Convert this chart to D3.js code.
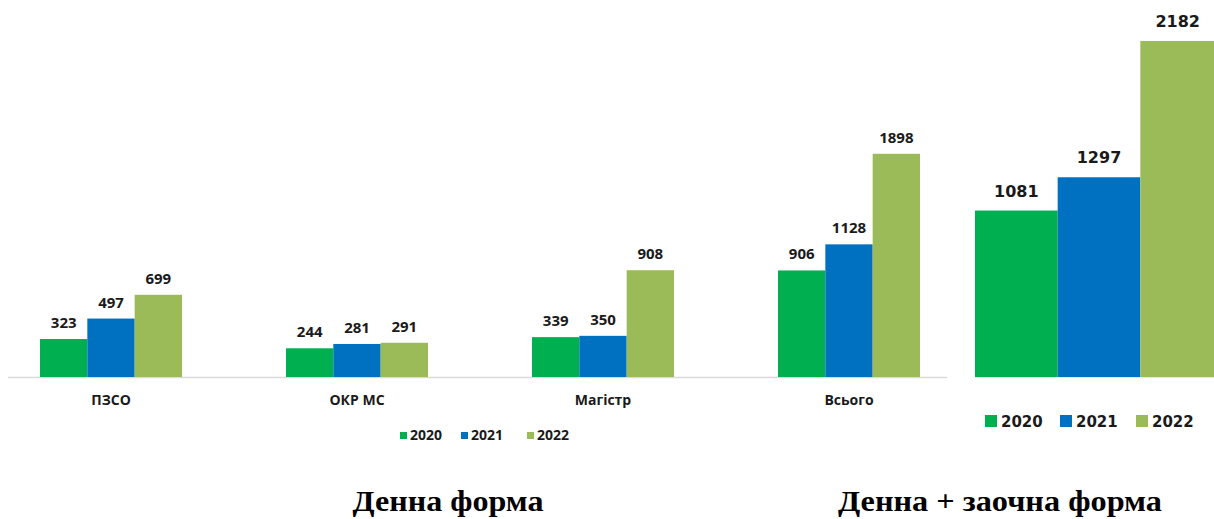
<!DOCTYPE html>
<html>
<head>
<meta charset="utf-8">
<script src="https://cdn.jsdelivr.net/npm/d3@7"></script>
<style>
  body { margin: 0; background: #fff; }
  svg { display: block; }
</style>
</head>
<body>
<svg id="chart" width="1214" height="519"></svg>
<script>
// data
var years = ["2020", "2021", "2022"]
var categories = ["ПЗСО", "ОКР МС", "Магістр", "Всього"]
var values2020 = [323, 244, 339, 906]
var values2021 = [497, 281, 350, 1128]
var values2022 = [699, 291, 908, 1898]
var totalValues = [1081, 1297, 2182]
var titles = ["Денна форма", "Денна + заочна форма"]

var colors = d3.scaleOrdinal().domain(years).range(["#00b050", "#0070c0", "#9bbb59"])

var svg = d3.select("#chart")

// ---- left chart: денна форма ----
var series = [values2020, values2021, values2022]
var rows = categories.map(function(c, i) {
  return { cat: c, vals: years.map(function(y, j) { return { year: y, v: series[j][i] } }) }
})

var baseY = 377
var x0 = d3.scaleBand().domain(categories).range([-12, 972]).paddingInner(0.4228).paddingOuter(0.2114)
var x1 = d3.scaleBand().domain(years).range([0, x0.bandwidth()])
var yLeft = d3.scaleLinear().domain([0, 2000]).range([baseY, baseY - 235.2])

svg.append("line")
   .attr("x1", 8).attr("x2", 947)
   .attr("y1", baseY + 0.5).attr("y2", baseY + 0.5)
   .attr("stroke", "#d9d9d9").attr("stroke-width", 1.5)

var groups = svg.append("g")
                .selectAll("g")
                .data(rows)
                .enter()
                .append("g")
                .attr("transform", d => `translate(${x0(d.cat)},0)`)

groups.selectAll("rect")
      .data(d => d.vals)
      .enter()
      .append("rect")
      .attr("x", d => x1(d.year))
      .attr("y", d => yLeft(d.v))
      .attr("width", x1.bandwidth())
      .attr("height", d => baseY - yLeft(d.v))
      .attr("fill", d => colors(d.year))

groups.selectAll("text.val")
      .data(d => d.vals)
      .enter()
      .append("text")
      .attr("class", "val")
      .attr("x", d => x1(d.year) + x1.bandwidth() / 2)
      .attr("y", d => yLeft(d.v) - 11)
      .attr("text-anchor", "middle")
      .style("font-family", "'Open Sans', sans-serif")
      .style("font-weight", "bold")
      .style("font-size", "15px")
      .attr("fill", "#1a1a1a")
      .text(d => d.v)

var xAxisGen = d3.axisBottom(x0).tickSize(0).tickPadding(0)
var xAxis = svg.append("g")
               .attr("transform", `translate(0,${baseY})`)
               .call(xAxisGen)
xAxis.select(".domain").remove()
xAxis.selectAll("text")
     .attr("dy", 0)
     .attr("y", 28)
     .style("font-family", "'Open Sans', sans-serif")
     .style("font-weight", "bold")
     .style("font-size", "14px")
     .attr("fill", "#1a1a1a")

// left legend
var legLeftX = [400, 461, 527]
var legL = svg.append("g")
              .selectAll("g")
              .data(years)
              .enter()
              .append("g")
              .attr("transform", (d, i) => `translate(${legLeftX[i]},432)`)
legL.append("rect").attr("width", 7).attr("height", 7).attr("fill", d => colors(d))
legL.append("text")
    .attr("x", 10).attr("y", 8)
    .style("font-family", "'Open Sans', sans-serif")
    .style("font-weight", "bold")
    .style("font-size", "14px")
    .attr("fill", "#1a1a1a")
    .text(d => d)

// ---- right chart: денна + заочна ----
var xR = d3.scaleBand().domain(years).range([975, 1223]).padding(0)
var yRight = d3.scaleLinear().domain([0, 2200]).range([baseY, baseY - 338.8])

svg.append("g")
   .selectAll("rect")
   .data(totalValues)
   .enter()
   .append("rect")
   .attr("x", (d, i) => xR(years[i]))
   .attr("y", d => yRight(d))
   .attr("width", xR.bandwidth())
   .attr("height", d => baseY - yRight(d))
   .attr("fill", (d, i) => colors(years[i]))

svg.append("line")
   .attr("x1", 975).attr("x2", 1214)
   .attr("y1", baseY + 0.5).attr("y2", baseY + 0.5)
   .attr("stroke", "#e6e6e6").attr("stroke-width", 1)

svg.append("g")
   .selectAll("text")
   .data(totalValues)
   .enter()
   .append("text")
   .attr("x", (d, i) => xR(years[i]) + xR.bandwidth() / 2 + (i == 2 ? -4 : 0))
   .attr("y", d => yRight(d) - 14)
   .attr("text-anchor", "middle")
   .style("font-family", "'DejaVu Sans', sans-serif")
   .style("font-weight", "bold")
   .style("font-size", "16px")
   .attr("fill", "#1a1a1a")
   .text(d => d)

var legRightX = [985, 1060, 1136]
var legR = svg.append("g")
              .selectAll("g")
              .data(years)
              .enter()
              .append("g")
              .attr("transform", (d, i) => `translate(${legRightX[i]},415)`)
legR.append("rect").attr("width", 12).attr("height", 12).attr("fill", d => colors(d))
legR.append("text")
    .attr("x", 16).attr("y", 12)
    .style("font-family", "'DejaVu Sans', sans-serif")
    .style("font-weight", "bold")
    .style("font-size", "15px")
    .attr("fill", "#1a1a1a")
    .text(d => d)

// titles
var titleX = [448, 1000]
var titleW = [191, 324]
svg.selectAll("text.title")
   .data(titles)
   .enter()
   .append("text")
   .attr("class", "title")
   .attr("x", (d, i) => titleX[i] - titleW[i] / 2)
   .attr("y", 511)
   .attr("textLength", (d, i) => titleW[i])
   .attr("lengthAdjust", "spacingAndGlyphs")
   .style("font-family", "'Liberation Serif', serif")
   .style("font-weight", "bold")
   .style("font-size", "29px")
   .attr("fill", "#000")
   .text(d => d)
</script>
</body>
</html>
